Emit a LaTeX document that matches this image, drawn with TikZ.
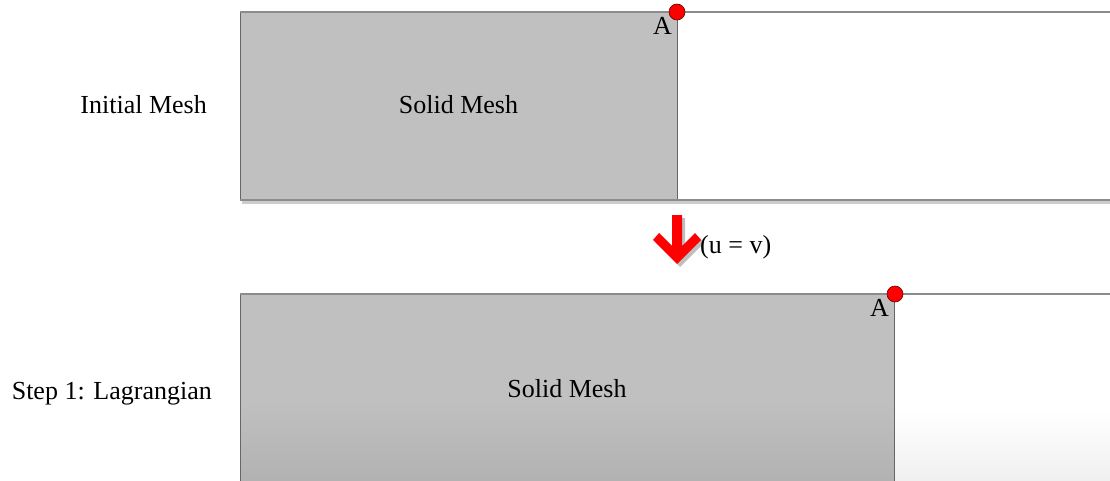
\documentclass[tikz,border=0pt]{standalone}
\usepackage{fontspec}
\setmainfont{Liberation Serif}
\definecolor{meshgray}{HTML}{C0C0C0}
\definecolor{meshgrayb}{HTML}{B2B2B2}
\definecolor{edgegray}{HTML}{8C8C8C}
\begin{document}
\begin{tikzpicture}[x=1pt,y=-1pt,
  font=\fontsize{26}{30}\selectfont,
  panelline/.style={draw=edgegray, line width=1.6pt},
  meshedge/.style={draw=black!60, line width=1pt},
  dotnode/.style={circle, fill=red, draw=red!40!black, line width=0.6pt, minimum size=16pt, inner sep=0pt},
  lbl/.style={inner sep=0pt},
  shadowband/.style={fill=black!20}]
\useasboundingbox (0,0) rectangle (1110,481);
% ---------- top panel ----------
\fill[shadowband] (242,201) rectangle (1110,204);
\fill[meshgray] (240,12) rectangle (677,200);
\draw[meshedge] (240,12) -- (240,200) -- (677,200) -- (677,12);
\draw[panelline] (1110,12) -- (240,12);
\draw[panelline] (240,200) -- (1110,200);
\node[dotnode] (A1) at (677,12) {};
\node[lbl, anchor=base east] (a1) at (672,35) {A};
\node[lbl, anchor=base] (solid1) at (458.5,114) {Solid Mesh};
\node[lbl, anchor=base east] (init) at (207,114) {Initial Mesh};
% ---------- arrow ----------
\begin{scope}[shift={(3,3)}]
\fill[black!25] (672,215) -- (682,215) -- (682,246) -- (695,233) -- (701,240) -- (677,264) -- (653,240) -- (659,233) -- (672,246) -- cycle;
\end{scope}
\fill[red] (672,215) -- (682,215) -- (682,246) -- (695,233) -- (701,240) -- (677,264) -- (653,240) -- (659,233) -- (672,246) -- cycle;
\node[lbl, anchor=base west] (uv) at (700,253) {(u = v)};
% ---------- bottom panel ----------
\shade[top color=white, bottom color=black!6] (895,410) rectangle (1110,481);
\fill[meshgray] (240,294) rectangle (894,400);
\shade[top color=meshgray, bottom color=meshgrayb] (240,399) rectangle (894,481);
\draw[meshedge] (240,481) -- (240,294);
\draw[meshedge] (894,294) -- (894,481);
\draw[panelline] (1110,294) -- (240,294);
\node[dotnode] (A2) at (895,294) {};
\node[lbl, anchor=base east] (a2) at (889,316) {A};
\node[lbl, anchor=base] (solid2) at (567,397) {Solid Mesh};
\node[lbl, anchor=base east] (step) at (212,399) {Step 1: Lagrangian};
\end{tikzpicture}
\end{document}
